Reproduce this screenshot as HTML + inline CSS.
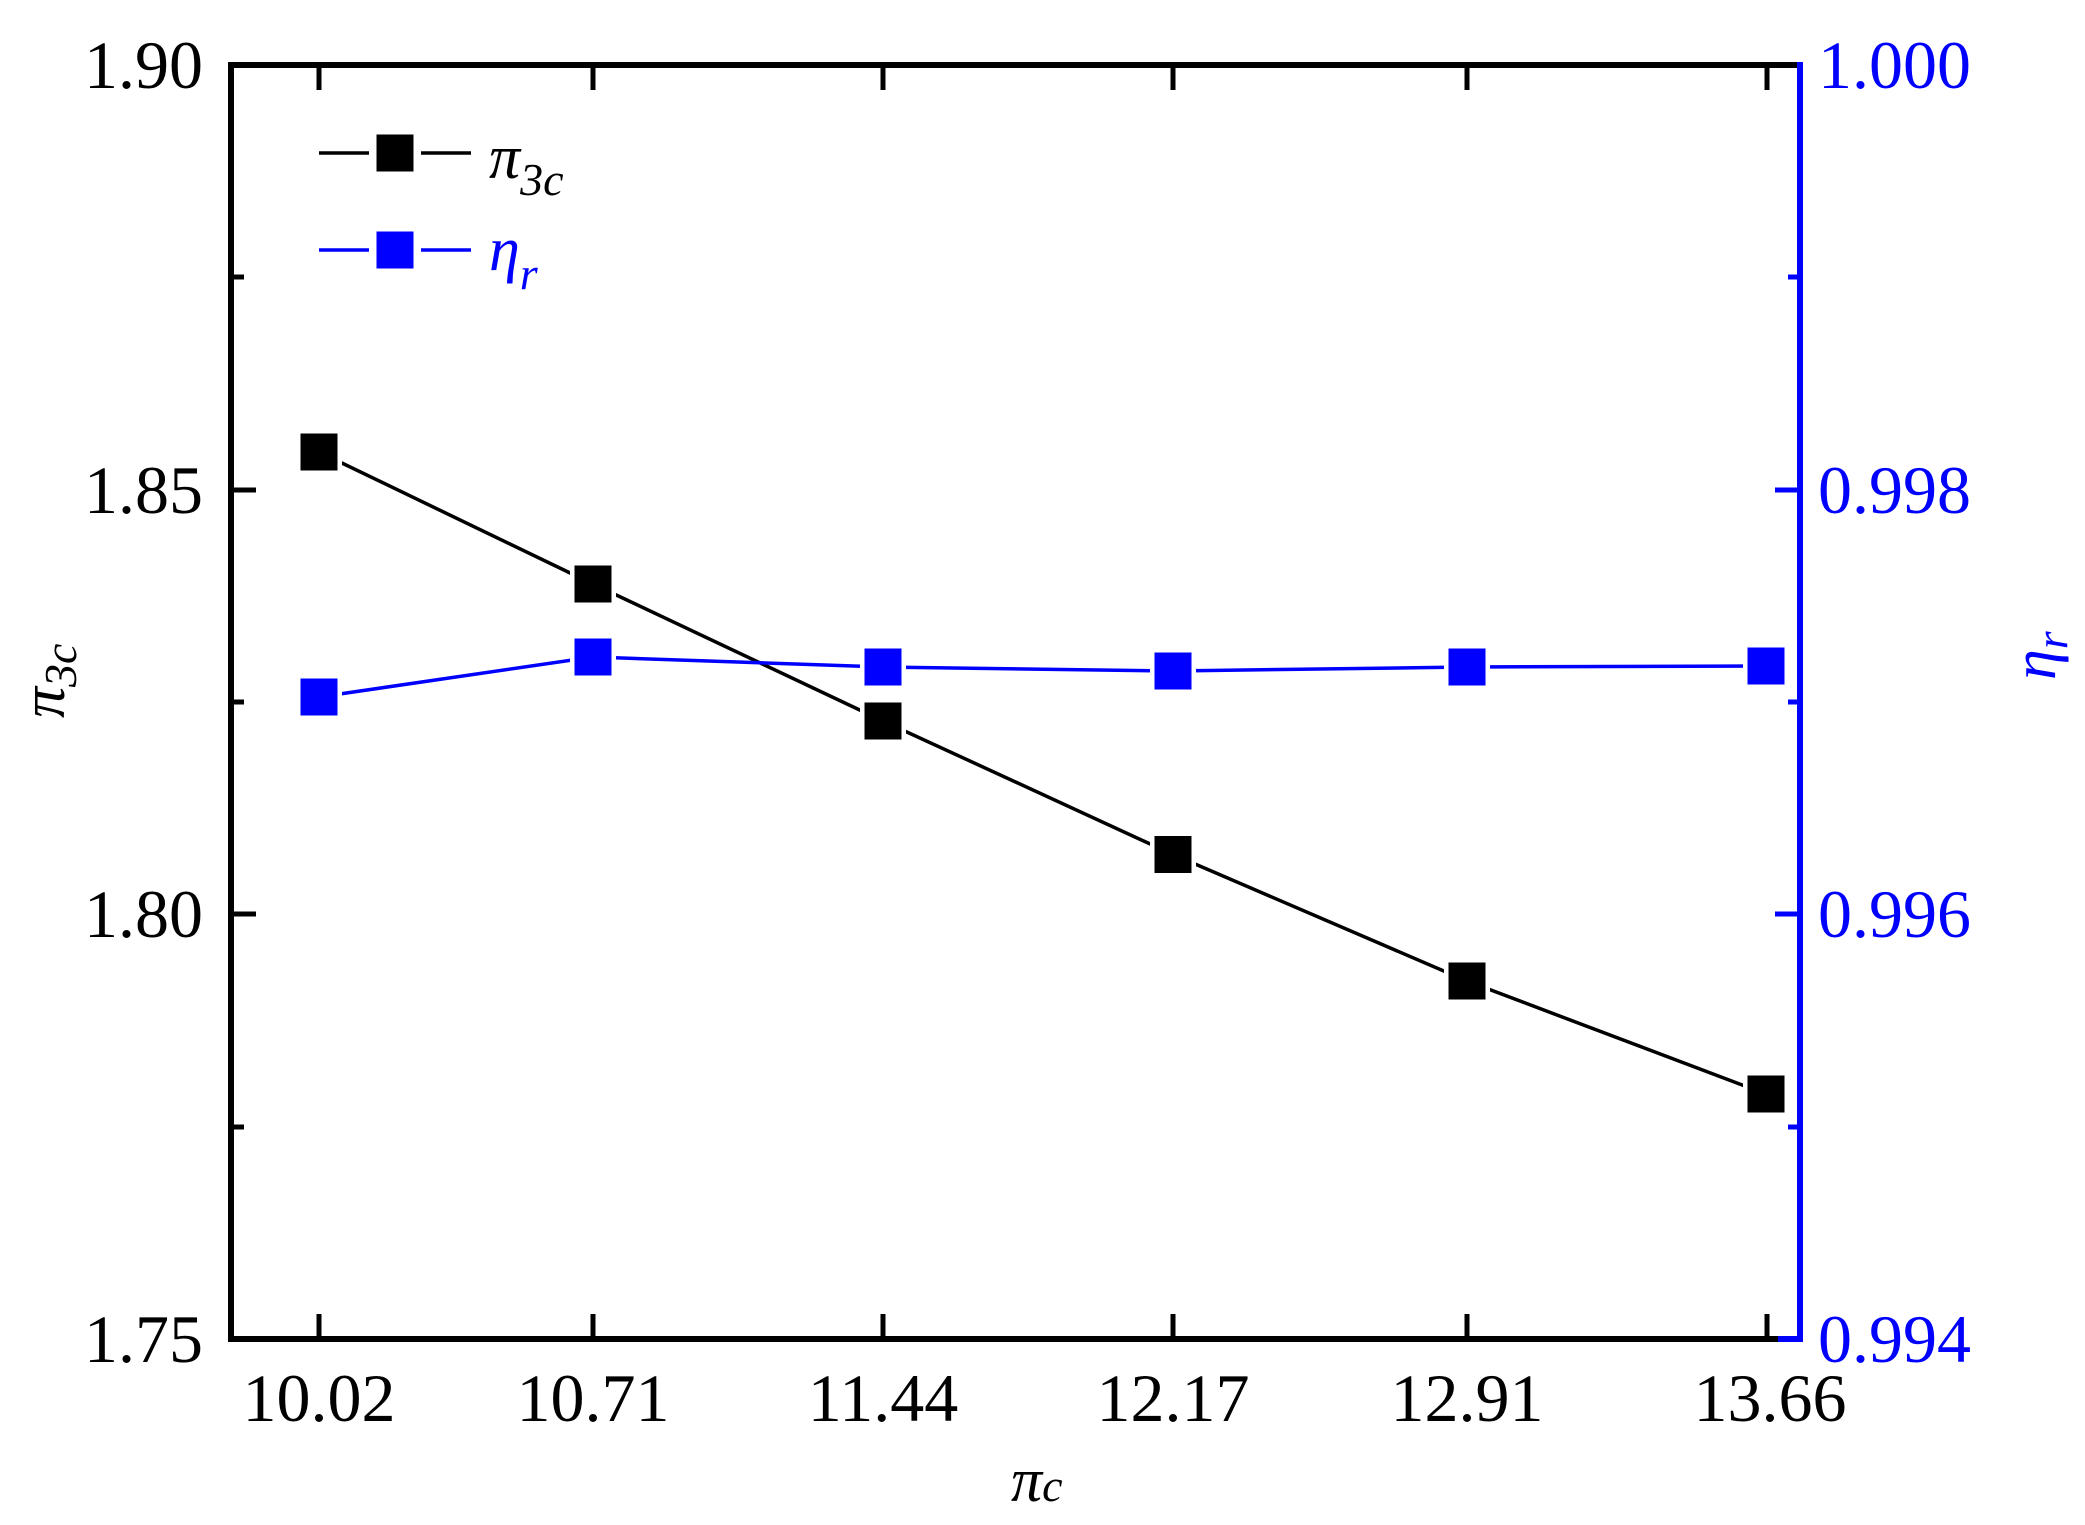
<!DOCTYPE html>
<html><head><meta charset="utf-8"><style>
html,body{margin:0;padding:0;background:#fff;}
svg{display:block;}
text{font-family:"Liberation Serif","Times New Roman",serif;}
</style></head><body>
<svg width="2085" height="1525" viewBox="0 0 2085 1525" xmlns="http://www.w3.org/2000/svg" font-family="Liberation Serif, serif">
<line x1="231" y1="65" x2="1800" y2="65" stroke="#000" stroke-width="6"/>
<line x1="231" y1="1339" x2="1778" y2="1339" stroke="#000" stroke-width="6"/>
<line x1="1778" y1="1339" x2="1800" y2="1339" stroke="#00f" stroke-width="6"/>
<line x1="231" y1="62" x2="231" y2="1342" stroke="#000" stroke-width="6"/>
<line x1="1800" y1="62" x2="1800" y2="1342" stroke="#00f" stroke-width="6"/>
<g stroke="#000" stroke-width="5">
<line x1="319" y1="1339" x2="319" y2="1314"/><line x1="593" y1="1339" x2="593" y2="1314"/>
<line x1="883" y1="1339" x2="883" y2="1314"/><line x1="1173" y1="1339" x2="1173" y2="1314"/>
<line x1="1467" y1="1339" x2="1467" y2="1314"/><line x1="1767" y1="1339" x2="1767" y2="1314"/>
<line x1="319" y1="65" x2="319" y2="90"/><line x1="593" y1="65" x2="593" y2="90"/>
<line x1="883" y1="65" x2="883" y2="90"/><line x1="1173" y1="65" x2="1173" y2="90"/>
<line x1="1467" y1="65" x2="1467" y2="90"/><line x1="1767" y1="65" x2="1767" y2="90"/>
<line x1="231" y1="490" x2="256" y2="490"/><line x1="231" y1="914" x2="256" y2="914"/>
<line x1="231" y1="277" x2="244" y2="277"/><line x1="231" y1="702" x2="244" y2="702"/><line x1="231" y1="1127" x2="244" y2="1127"/>
</g>
<g stroke="#00f" stroke-width="5">
<line x1="1800" y1="490" x2="1775" y2="490"/><line x1="1800" y1="914" x2="1775" y2="914"/>
<line x1="1800" y1="277" x2="1788" y2="277"/><line x1="1800" y1="702" x2="1788" y2="702"/><line x1="1800" y1="1127" x2="1788" y2="1127"/>
</g>
<g font-size="68" fill="#000" text-anchor="end">
<text x="203" y="88">1.90</text><text x="203" y="513">1.85</text>
<text x="203" y="937">1.80</text><text x="203" y="1362">1.75</text>
</g>
<g font-size="68" fill="#00f" text-anchor="start">
<text x="1818" y="88">1.000</text><text x="1818" y="513">0.998</text>
<text x="1818" y="937">0.996</text><text x="1818" y="1362">0.994</text>
</g>
<g font-size="68" fill="#000" text-anchor="middle">
<text x="319" y="1421">10.02</text><text x="593" y="1421">10.71</text>
<text x="883" y="1421">11.44</text><text x="1173" y="1421">12.17</text>
<text x="1467" y="1421">12.91</text><text x="1770" y="1421">13.66</text>
</g>
<text x="1011" y="1501" font-size="62" font-style="italic" fill="#000">π<tspan font-size="46">c</tspan></text>
<text transform="translate(64,718) rotate(-90)" font-size="62" font-style="italic" fill="#000">π<tspan font-size="46" dy="12">3c</tspan></text>
<text transform="translate(2055,680) rotate(-90)" font-size="62" font-style="italic" fill="#00f">η<tspan font-size="46" dy="12">r</tspan></text>
<polyline points="319,452 593,584 883,721 1173,854.5 1467,981 1766,1094" fill="none" stroke="#000" stroke-width="3.5"/>
<polyline points="319,697 593,657 883,667 1173,671 1467,667 1766,666" fill="none" stroke="#00f" stroke-width="3.5"/>
<g fill="#fff">
<rect x="296" y="429" width="46" height="46"/><rect x="570" y="561" width="46" height="46"/>
<rect x="860" y="698" width="46" height="46"/><rect x="1150" y="831" width="46" height="46"/>
<rect x="1444" y="958" width="46" height="46"/><rect x="1743" y="1071" width="46" height="46"/>
<rect x="296" y="674" width="46" height="46"/><rect x="570" y="634" width="46" height="46"/>
<rect x="860" y="644" width="46" height="46"/><rect x="1150" y="648" width="46" height="46"/>
<rect x="1444" y="644" width="46" height="46"/><rect x="1743" y="643" width="46" height="46"/>
</g>
<g fill="#000">
<rect x="300.5" y="433.5" width="37" height="37"/><rect x="574.5" y="565.5" width="37" height="37"/>
<rect x="864.5" y="702.5" width="37" height="37"/><rect x="1154.5" y="836" width="37" height="37"/>
<rect x="1448.5" y="962.5" width="37" height="37"/><rect x="1747.5" y="1075.5" width="37" height="37"/>
</g>
<g fill="#00f">
<rect x="300.5" y="678.5" width="37" height="37"/><rect x="574.5" y="638.5" width="37" height="37"/>
<rect x="864.5" y="648.5" width="37" height="37"/><rect x="1154.5" y="652.5" width="37" height="37"/>
<rect x="1448.5" y="648.5" width="37" height="37"/><rect x="1747.5" y="647.5" width="37" height="37"/>
</g>
<line x1="319" y1="153" x2="369" y2="153" stroke="#000" stroke-width="3.5"/>
<line x1="421" y1="153" x2="471" y2="153" stroke="#000" stroke-width="3.5"/>
<rect x="376.5" y="134.5" width="37" height="37" fill="#000"/>
<text x="489" y="178" font-size="62" font-style="italic" fill="#000">π<tspan font-size="46" dy="17">3c</tspan></text>
<line x1="319" y1="250" x2="369" y2="250" stroke="#00f" stroke-width="3.5"/>
<line x1="421" y1="250" x2="471" y2="250" stroke="#00f" stroke-width="3.5"/>
<rect x="376.5" y="231.5" width="37" height="37" fill="#00f"/>
<text x="489" y="270" font-size="62" font-style="italic" fill="#00f">η<tspan font-size="46" dy="19">r</tspan></text>
</svg>
</body></html>
